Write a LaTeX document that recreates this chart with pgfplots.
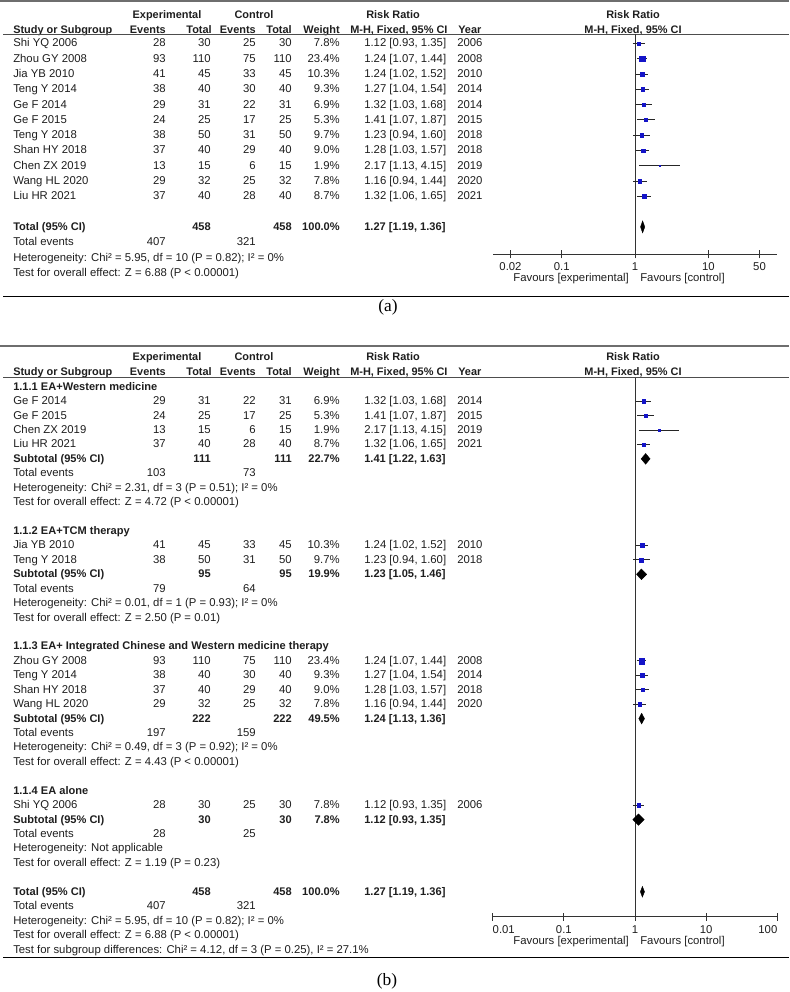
\documentclass[border=0pt]{standalone}
\usepackage{pgfplots}
\usepackage{pgfplotstable}
\pgfplotsset{compat=1.18}
\usepackage{fontspec}
\setmainfont{Liberation Sans}
\newfontfamily\seriffnt{Liberation Serif}
\definecolor{rmblue}{RGB}{20,20,200}
\definecolor{txt}{RGB}{30,30,30}
\definecolor{rulec}{RGB}{110,110,110}
\newcommand{\fs}{\fontsize{8.5}{9.5}\selectfont}
\newcommand{\fh}{\fontsize{8.2}{9.5}\selectfont\bfseries}
\newcommand{\fb}{\fontsize{8.3}{9.5}\selectfont\bfseries}
\def\yb{43.3}\def\yp{15.3}
\newcommand{\Y}[1]{\yb+\yp*#1}
\tikzset{L/.style={anchor=mid west,inner sep=0pt,font=\fs,text=txt},
         R/.style={anchor=mid east,inner sep=0pt,font=\fs,text=txt},
         C/.style={anchor=mid,inner sep=0pt,font=\fs,text=txt}}
\newcommand{\srow}[9]{%
  \node[L] at (13,\Y{#1}) {#2};
  \node[R] at (166,\Y{#1}) {#3};
  \node[R] at (211,\Y{#1}) {#4};
  \node[R] at (256,\Y{#1}) {#5};
  \node[R] at (292,\Y{#1}) {#6};
  \node[R] at (340,\Y{#1}) {#7\%};
  \node[L] at (364,\Y{#1}) {#8};
  \node[L] at (457,\Y{#1}) {#9};}
\newcommand{\brow}[6]{%
  \node[L,font=\fb] at (13,\Y{#1}) {#2};
  \node[R,font=\fb] at (211,\Y{#1}) {#3};
  \node[R,font=\fb] at (292,\Y{#1}) {#4};
  \node[R,font=\fb] at (340,\Y{#1}) {#5\%};
  \node[L,font=\fb] at (364,\Y{#1}) {#6};}
\newcommand{\erow}[3]{%
  \node[L] at (13,\Y{#1}) {Total events};
  \node[R] at (166,\Y{#1}) {#2};
  \node[R] at (256,\Y{#1}) {#3};}
\newcommand{\trow}[2]{\node[L] at (13,\Y{#1}) {#2};}
\newcommand{\grow}[2]{\node[L,font=\fb] at (13,\Y{#1}) {#2};}
\newcommand{\header}[4]{%
  \draw[rulec,line width=1.5pt] (0,#1) -- (789,#1);
  \node[C,font=\fh] at (167,#2) {Experimental};
  \node[C,font=\fh] at (254,#2) {Control};
  \node[C,font=\fh] at (393,#2) {Risk Ratio};
  \node[C,font=\fh] at (633,#2) {Risk Ratio};
  \node[L,font=\fh] at (13,#3) {Study or Subgroup};
  \node[R,font=\fh] at (166,#3) {Events};
  \node[R,font=\fh] at (212,#3) {Total};
  \node[R,font=\fh] at (256,#3) {Events};
  \node[R,font=\fh] at (292,#3) {Total};
  \node[R,font=\fh] at (340,#3) {Weight};
  \node[L,font=\fh] at (350,#3) {M-H, Fixed, 95\% CI};
  \node[L,font=\fh] at (458,#3) {Year};
  \node[C,font=\fh] at (633,#3) {M-H, Fixed, 95\% CI};
  \draw[rulec!70!black,line width=0.7pt] (3,#4) -- (789,#4);}

% panel (a) studies: y = -row
\pgfplotstableread{
rr lo hi w y
1.12 0.93 1.35 7.8 0
1.24 1.07 1.44 23.4 -1
1.24 1.02 1.52 10.3 -2
1.27 1.04 1.54 9.3 -3
1.32 1.03 1.68 6.9 -4
1.41 1.07 1.87 5.3 -5
1.23 0.94 1.60 9.7 -6
1.28 1.03 1.57 9.0 -7
2.17 1.13 4.15 1.9 -8
1.16 0.94 1.44 7.8 -9
1.32 1.06 1.65 8.7 -10
}\tabA
% panel (b) studies
\pgfplotstableread{
rr lo hi w y
1.32 1.03 1.68 6.9 -1
1.41 1.07 1.87 5.3 -2
2.17 1.13 4.15 1.9 -3
1.32 1.06 1.65 8.7 -4
1.24 1.02 1.52 10.3 -11
1.23 0.94 1.60 9.7 -12
1.24 1.07 1.44 23.4 -19
1.27 1.04 1.54 9.3 -20
1.28 1.03 1.57 9.0 -21
1.16 0.94 1.44 7.8 -22
1.12 0.93 1.35 7.8 -29
}\tabB

\begin{document}
\begin{tikzpicture}[x=0.75pt,y=-0.75pt]
\useasboundingbox (0,0) rectangle (789,992);
\coordinate (pa) at (493.3,254.3);
\coordinate (pb) at (492.7,916.7);

% ================= panel (a) =================
\header{1.2}{15}{29.5}{34}
\srow{0}{Shi YQ 2006}{28}{30}{25}{30}{7.8}{1.12 [0.93, 1.35]}{2006}
\srow{1}{Zhou GY 2008}{93}{110}{75}{110}{23.4}{1.24 [1.07, 1.44]}{2008}
\srow{2}{Jia YB 2010}{41}{45}{33}{45}{10.3}{1.24 [1.02, 1.52]}{2010}
\srow{3}{Teng Y 2014}{38}{40}{30}{40}{9.3}{1.27 [1.04, 1.54]}{2014}
\srow{4}{Ge F 2014}{29}{31}{22}{31}{6.9}{1.32 [1.03, 1.68]}{2014}
\srow{5}{Ge F 2015}{24}{25}{17}{25}{5.3}{1.41 [1.07, 1.87]}{2015}
\srow{6}{Teng Y 2018}{38}{50}{31}{50}{9.7}{1.23 [0.94, 1.60]}{2018}
\srow{7}{Shan HY 2018}{37}{40}{29}{40}{9.0}{1.28 [1.03, 1.57]}{2018}
\srow{8}{Chen ZX 2019}{13}{15}{6}{15}{1.9}{2.17 [1.13, 4.15]}{2019}
\srow{9}{Wang HL 2020}{29}{32}{25}{32}{7.8}{1.16 [0.94, 1.44]}{2020}
\srow{10}{Liu HR 2021}{37}{40}{28}{40}{8.7}{1.32 [1.06, 1.65]}{2021}
\brow{12}{Total (95\% CI)}{458}{458}{100.0}{1.27 [1.19, 1.36]}
\erow{13}{407}{321}
\trow{14}{Heterogeneity: Chi² = 5.95, df = 10 (P = 0.82); I² = 0\%}
\trow{15}{Test for overall effect: Z = 6.88 (P < 0.00001)}
\node[R] at (629,278.3) {Favours [experimental]};
\node[L] at (640,278.3) {Favours [control]};
\draw[black,line width=0.7pt] (3,296.7) -- (789,296.7);
\node[font=\seriffnt\fontsize{13}{15}\selectfont,text=black] at (388,307) {(a)};

\begin{axis}[at={(pa)}, anchor=south west,
  scale only axis, width=213pt, height=165.2pt,
  xmode=log, clip=false,
  axis x line*=bottom, axis y line=none,
  xminorticks=false, xtick align=center, major tick length=6pt,
  axis line style={black!80,line width=0.6pt},
  tick style={black!80,line width=0.6pt},
  tick label style={font=\fs,text=txt},
  xmin=0.01166, xmax=87.4, ymin=-13.791, ymax=0.608,
  xtick={0.02,0.1,1,10,50}, xticklabels={0.02,0.1,1,10,50}]
\addplot[black!80,line width=0.6pt,forget plot] coordinates {(1,-13.791) (1,0.608)};
\addplot[black!85,line width=0.6pt] coordinates {(0.93,0) (1.35,0)};
\addplot[black!85,line width=0.6pt] coordinates {(1.07,-1) (1.44,-1)};
\addplot[black!85,line width=0.6pt] coordinates {(1.02,-2) (1.52,-2)};
\addplot[black!85,line width=0.6pt] coordinates {(1.04,-3) (1.54,-3)};
\addplot[black!85,line width=0.6pt] coordinates {(1.03,-4) (1.68,-4)};
\addplot[black!85,line width=0.6pt] coordinates {(1.07,-5) (1.87,-5)};
\addplot[black!85,line width=0.6pt] coordinates {(0.94,-6) (1.60,-6)};
\addplot[black!85,line width=0.6pt] coordinates {(1.03,-7) (1.57,-7)};
\addplot[black!85,line width=0.6pt] coordinates {(1.13,-8) (4.15,-8)};
\addplot[black!85,line width=0.6pt] coordinates {(0.94,-9) (1.44,-9)};
\addplot[black!85,line width=0.6pt] coordinates {(1.06,-10) (1.65,-10)};
\addplot[scatter, only marks, mark=square*,
    scatter/use mapped color={draw=rmblue,fill=rmblue},
    visualization depends on={0.45*sqrt(\thisrow{w}) \as \msz},
    scatter/@pre marker code/.append style={/tikz/mark size=\msz pt},
    mark options={line width=0.1pt}] table[x=rr,y=y] {\tabA};
\addplot[fill=black,draw=black,line width=0.3pt] coordinates {(1.19,-12) (1.27,-11.61) (1.36,-12) (1.27,-12.39) (1.19,-12)};
\end{axis}

% ================= panel (b) =================
\def\yb{386.7}\def\yp{14.43}
\header{346}{356.7}{371.5}{377.7}
\grow{0}{1.1.1 EA+Western medicine}
\srow{1}{Ge F 2014}{29}{31}{22}{31}{6.9}{1.32 [1.03, 1.68]}{2014}
\srow{2}{Ge F 2015}{24}{25}{17}{25}{5.3}{1.41 [1.07, 1.87]}{2015}
\srow{3}{Chen ZX 2019}{13}{15}{6}{15}{1.9}{2.17 [1.13, 4.15]}{2019}
\srow{4}{Liu HR 2021}{37}{40}{28}{40}{8.7}{1.32 [1.06, 1.65]}{2021}
\brow{5}{Subtotal (95\% CI)}{111}{111}{22.7}{1.41 [1.22, 1.63]}
\erow{6}{103}{73}
\trow{7}{Heterogeneity: Chi² = 2.31, df = 3 (P = 0.51); I² = 0\%}
\trow{8}{Test for overall effect: Z = 4.72 (P < 0.00001)}
\grow{10}{1.1.2 EA+TCM therapy}
\srow{11}{Jia YB 2010}{41}{45}{33}{45}{10.3}{1.24 [1.02, 1.52]}{2010}
\srow{12}{Teng Y 2018}{38}{50}{31}{50}{9.7}{1.23 [0.94, 1.60]}{2018}
\brow{13}{Subtotal (95\% CI)}{95}{95}{19.9}{1.23 [1.05, 1.46]}
\erow{14}{79}{64}
\trow{15}{Heterogeneity: Chi² = 0.01, df = 1 (P = 0.93); I² = 0\%}
\trow{16}{Test for overall effect: Z = 2.50 (P = 0.01)}
\grow{18}{1.1.3 EA+ Integrated Chinese and Western medicine therapy}
\srow{19}{Zhou GY 2008}{93}{110}{75}{110}{23.4}{1.24 [1.07, 1.44]}{2008}
\srow{20}{Teng Y 2014}{38}{40}{30}{40}{9.3}{1.27 [1.04, 1.54]}{2014}
\srow{21}{Shan HY 2018}{37}{40}{29}{40}{9.0}{1.28 [1.03, 1.57]}{2018}
\srow{22}{Wang HL 2020}{29}{32}{25}{32}{7.8}{1.16 [0.94, 1.44]}{2020}
\brow{23}{Subtotal (95\% CI)}{222}{222}{49.5}{1.24 [1.13, 1.36]}
\erow{24}{197}{159}
\trow{25}{Heterogeneity: Chi² = 0.49, df = 3 (P = 0.92); I² = 0\%}
\trow{26}{Test for overall effect: Z = 4.43 (P < 0.00001)}
\grow{28}{1.1.4 EA alone}
\srow{29}{Shi YQ 2006}{28}{30}{25}{30}{7.8}{1.12 [0.93, 1.35]}{2006}
\brow{30}{Subtotal (95\% CI)}{30}{30}{7.8}{1.12 [0.93, 1.35]}
\erow{31}{28}{25}
\trow{32}{Heterogeneity: Not applicable}
\trow{33}{Test for overall effect: Z = 1.19 (P = 0.23)}
\brow{35}{Total (95\% CI)}{458}{458}{100.0}{1.27 [1.19, 1.36]}
\erow{36}{407}{321}
\trow{37}{Heterogeneity: Chi² = 5.95, df = 10 (P = 0.82); I² = 0\%}
\trow{38}{Test for overall effect: Z = 6.88 (P < 0.00001)}
\trow{39}{Test for subgroup differences: Chi² = 4.12, df = 3 (P = 0.25), I² = 27.1\%}
\node[R] at (629,941) {Favours [experimental]};
\node[L] at (640,941) {Favours [control]};
\draw[black,line width=0.7pt] (3,957) -- (789,957);
\node[font=\seriffnt\fontsize{13}{15}\selectfont,text=black] at (387,981) {(b)};

\begin{axis}[at={(pb)}, anchor=south west,
  scale only axis, width=213.45pt, height=404.25pt,
  xmode=log, clip=false,
  axis x line*=bottom, axis y line=none,
  xminorticks=false, xtick align=center, major tick length=6pt,
  axis line style={black!80,line width=0.6pt},
  tick style={black!80,line width=0.6pt},
  tick label style={font=\fs,text=txt},
  xmin=0.01, xmax=100, ymin=-36.729, ymax=0.624,
  xtick={0.01,0.1,1,10,100}, xticklabels={\rlap{0.01},0.1,1,10,\llap{100}}]
\addplot[black!80,line width=0.6pt,forget plot] coordinates {(1,-36.729) (1,0.624)};
\addplot[black!85,line width=0.6pt] coordinates {(1.03,-1) (1.68,-1)};
\addplot[black!85,line width=0.6pt] coordinates {(1.07,-2) (1.87,-2)};
\addplot[black!85,line width=0.6pt] coordinates {(1.13,-3) (4.15,-3)};
\addplot[black!85,line width=0.6pt] coordinates {(1.06,-4) (1.65,-4)};
\addplot[black!85,line width=0.6pt] coordinates {(1.02,-11) (1.52,-11)};
\addplot[black!85,line width=0.6pt] coordinates {(0.94,-12) (1.60,-12)};
\addplot[black!85,line width=0.6pt] coordinates {(1.07,-19) (1.44,-19)};
\addplot[black!85,line width=0.6pt] coordinates {(1.04,-20) (1.54,-20)};
\addplot[black!85,line width=0.6pt] coordinates {(1.03,-21) (1.57,-21)};
\addplot[black!85,line width=0.6pt] coordinates {(0.94,-22) (1.44,-22)};
\addplot[black!85,line width=0.6pt] coordinates {(0.93,-29) (1.35,-29)};
\addplot[scatter, only marks, mark=square*,
    scatter/use mapped color={draw=rmblue,fill=rmblue},
    visualization depends on={0.45*sqrt(\thisrow{w}) \as \msz},
    scatter/@pre marker code/.append style={/tikz/mark size=\msz pt},
    mark options={line width=0.1pt}] table[x=rr,y=y] {\tabB};
\addplot[fill=black,draw=black,line width=0.3pt] coordinates {(1.22,-5) (1.41,-4.63) (1.63,-5) (1.41,-5.37) (1.22,-5)};
\addplot[fill=black,draw=black,line width=0.3pt] coordinates {(1.05,-13) (1.23,-12.63) (1.46,-13) (1.23,-13.37) (1.05,-13)};
\addplot[fill=black,draw=black,line width=0.3pt] coordinates {(1.13,-23) (1.24,-22.63) (1.36,-23) (1.24,-23.37) (1.13,-23)};
\addplot[fill=black,draw=black,line width=0.3pt] coordinates {(0.93,-30) (1.12,-29.6) (1.35,-30) (1.12,-30.4) (0.93,-30)};
\addplot[fill=black,draw=black,line width=0.3pt] coordinates {(1.19,-35) (1.27,-34.63) (1.36,-35) (1.27,-35.37) (1.19,-35)};
\end{axis}
\end{tikzpicture}
\end{document}
